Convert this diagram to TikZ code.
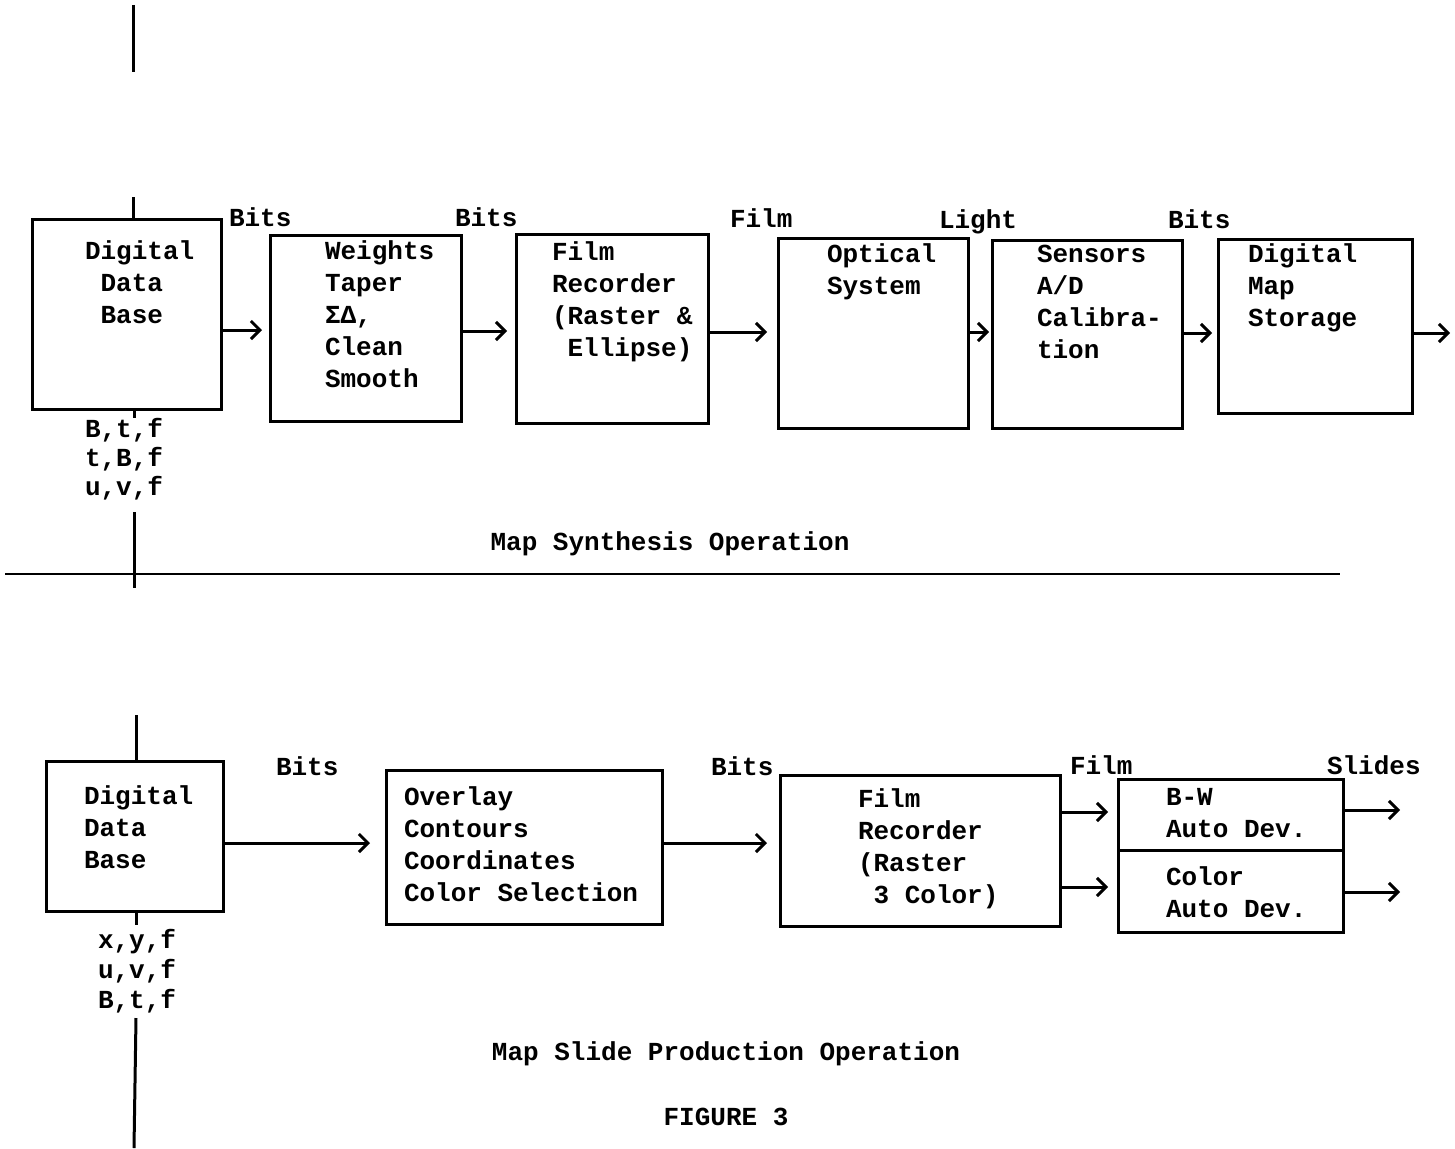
\documentclass[tikz,border=0pt]{standalone}
\usepackage{fontspec}
\setmainfont{Liberation Mono}
\usetikzlibrary{arrows.meta}
\begin{document}
\begin{tikzpicture}[x=1pt,y=-1pt,
  every node/.style={font=\fontsize{26}{32}\selectfont\bfseries, inner sep=0pt, outer sep=0pt},
  box/.style={draw, line width=3pt, rectangle},
  txt/.style={anchor=base west, align=left},
  ctr/.style={anchor=base},
  ln/.style={line width=3pt},
  arr/.style={line width=3pt, -{Straight Barb[length=9pt,width=18pt]}}]
\useasboundingbox (0,0) rectangle (1455,1148);

% ---------- top section ----------
\node[box, minimum width=189pt, minimum height=190pt] (ddb1) at (126.5,314) {};
\node[box, minimum width=191pt, minimum height=186pt] (wts) at (365.5,328) {};
\node[box, minimum width=192pt, minimum height=189pt] (fr1) at (612,328.5) {};
\node[box, minimum width=190pt, minimum height=190pt] (opt) at (873,333) {};
\node[box, minimum width=190pt, minimum height=188pt] (sen) at (1087,334) {};
\node[box, minimum width=194pt, minimum height=174pt] (dms) at (1315,326) {};

% (base anchor = baseline of the last line)
\node[txt] (ddb1t) at (85,323) {Digital\\\phantom{x}Data\\\phantom{x}Base};
\node[txt] (wtst) at (325,387) {Weights\\Taper\\ΣΔ,\\Clean\\Smooth};
\node[txt] (fr1t) at (552,356) {Film\\Recorder\\(Raster \&\\\phantom{x}Ellipse)};
\node[txt] (optt) at (827,294) {Optical\\System};
\node[txt] (sent) at (1037,358) {Sensors\\A/D\\Calibra-\\tion};
\node[txt] (dmst) at (1248,326) {Digital\\Map\\Storage};

\node[txt] (lb1) at (229,226) {Bits};
\node[txt] (lb2) at (455,226) {Bits};
\node[txt] (lb3) at (730,227) {Film};
\node[txt] (lb4) at (939,228) {Light};
\node[txt] (lb5) at (1168,228) {Bits};

\node[txt, font=\fontsize{26}{29}\selectfont\bfseries] (crd1) at (85,495) {B,t,f\\t,B,f\\u,v,f};
\node[ctr] (cap1) at (670,550) {Map Synthesis Operation};

\coordinate (t0) at (133,5);
\coordinate (t1) at (133,72);
\draw[ln] (t0) -- (t1);
\coordinate (a0) at (133,197);
\draw[ln] (a0) -- (ddb1.north -| a0);
\coordinate (a1) at (134,418);
\draw[ln] (ddb1.south -| a1) -- (a1);
\coordinate (a2) at (134,512);
\coordinate (a3) at (134,588);
\draw[ln] (a2) -- (a3);
\coordinate (h0) at (5,574);
\coordinate (h1) at (1340,574);
\draw[line width=2.4pt] (h0) -- (h1);

\draw[arr, shorten >=8pt] (ddb1.east |- 0,330) -- (wts.west |- 0,330);
\draw[arr, shorten >=9pt] (wts.east |- 0,331) -- (fr1.west |- 0,331);
\draw[arr, shorten >=11pt] (fr1.east |- 0,332) -- (opt.west |- 0,332);
\draw[arr, shorten >=3pt] (opt.east |- 0,332) -- (sen.west |- 0,332);
\draw[arr, shorten >=6pt] (sen.east |- 0,333) -- (dms.west |- 0,333);
\coordinate (o1) at (1450,333);
\draw[arr] (dms.east |- o1) -- (o1);

% ---------- bottom section ----------
\node[box, minimum width=177pt, minimum height=150pt] (ddb2) at (134.5,836) {};
\node[box, minimum width=276pt, minimum height=154pt] (ovl) at (524,847) {};
\node[box, minimum width=280pt, minimum height=151pt] (fr2) at (920,850.5) {};
\node[box, minimum width=225pt, minimum height=71pt] (bw) at (1230.5,814.5) {};
\node[box, minimum width=225pt, minimum height=82pt] (col) at (1230.5,891) {};

\node[txt] (ddb2t) at (84,868) {Digital\\Data\\Base};
\node[txt] (ovlt) at (404,901) {Overlay\\Contours\\Coordinates\\Color Selection};
\node[txt] (fr2t) at (858,903) {Film\\Recorder\\(Raster\\\phantom{x}3 Color)};
\node[txt] (bwt) at (1166,837) {B-W\\Auto Dev.};
\node[txt] (colt) at (1166,917) {Color\\Auto Dev.};

\node[txt] (lb6) at (276,775) {Bits};
\node[txt] (lb7) at (711,775) {Bits};
\node[txt] (lb8) at (1070,774) {Film};
\node[txt] (lb9) at (1327,774) {Slides};

\node[txt, font=\fontsize{26}{30}\selectfont\bfseries] (crd2) at (98,1008) {x,y,f\\u,v,f\\B,t,f};
\node[ctr] (cap2) at (726,1060) {Map Slide Production Operation};
\node[ctr] (fig) at (726,1125) {FIGURE 3};

\coordinate (b0) at (136,715);
\draw[ln] (b0) -- (ddb2.north -| b0);
\coordinate (b1) at (136,925);
\draw[ln] (ddb2.south -| b1) -- (b1);
\coordinate (b2) at (136,1018);
\coordinate (b3) at (134,1148);
\draw[ln] (b2) -- (b3);

\draw[arr, shorten >=16pt] (ddb2.east |- 0,843) -- (ovl.west |- 0,843);
\draw[arr, shorten >=13pt] (ovl.east |- 0,843) -- (fr2.west |- 0,843);
\draw[arr, shorten >=10pt] (fr2.east |- 0,812) -- (bw.west |- 0,812);
\draw[arr, shorten >=10pt] (fr2.east |- 0,887) -- (col.west |- 0,887);
\coordinate (o2) at (1400,810);
\coordinate (o3) at (1400,892);
\draw[arr] (bw.east |- o2) -- (o2);
\draw[arr] (col.east |- o3) -- (o3);
\end{tikzpicture}
\end{document}
